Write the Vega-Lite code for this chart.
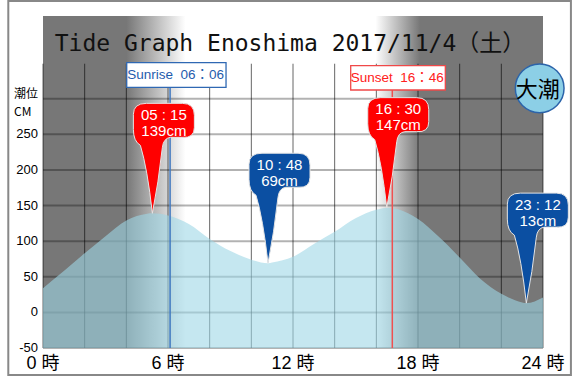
{
  "$schema": "https://vega.github.io/schema/vega-lite/v6.json",
  "width": 500,
  "height": 332,
  "autosize": {"type": "none"},
  "padding": {"left": 43, "top": 16, "right": 30, "bottom": 28},
  "background": "#ffffff",
  "config": {"view": {"stroke": null}},
  "datasets": {
    "tide": [
      {"hour": 0, "level": 34}, {"hour": 1, "level": 58}, {"hour": 2, "level": 83},
      {"hour": 3, "level": 107}, {"hour": 4, "level": 129}, {"hour": 5, "level": 138.5},
      {"hour": 5.25, "level": 139}, {"hour": 6, "level": 136}, {"hour": 7, "level": 124},
      {"hour": 8, "level": 103}, {"hour": 9, "level": 86}, {"hour": 10, "level": 74},
      {"hour": 10.8, "level": 69}, {"hour": 11, "level": 70}, {"hour": 12, "level": 78},
      {"hour": 13, "level": 96}, {"hour": 14, "level": 113}, {"hour": 15, "level": 132},
      {"hour": 16, "level": 144}, {"hour": 16.5, "level": 147}, {"hour": 17, "level": 145},
      {"hour": 18, "level": 131}, {"hour": 19, "level": 106}, {"hour": 20, "level": 77},
      {"hour": 21, "level": 47}, {"hour": 22, "level": 26}, {"hour": 23, "level": 14},
      {"hour": 23.2, "level": 13}, {"hour": 24, "level": 21}
    ],
    "extremes": [
      {"hour": 5.25, "level": 139, "time": "05 : 15", "cm": "139cm", "type": "high"},
      {"hour": 10.8, "level": 69, "time": "10 : 48", "cm": "69cm", "type": "low"},
      {"hour": 16.5, "level": 147, "time": "16 : 30", "cm": "147cm", "type": "high"},
      {"hour": 23.2, "level": 13, "time": "23 : 12", "cm": "13cm", "type": "low"}
    ],
    "sun": [
      {"event": "Sunrise", "hour": 6.1, "label": "Sunrise\u00a0\u00a006：06"},
      {"event": "Sunset", "hour": 16.767, "label": "Sunset\u00a0\u00a016：46"}
    ],
    "hgrid": [{"level": -50}, {"level": 0}, {"level": 50}, {"level": 100}, {"level": 150}, {"level": 200}, {"level": 250}, {"level": 300}],
    "vgrid": [{"hour": 0}, {"hour": 2}, {"hour": 4}, {"hour": 6}, {"hour": 8}, {"hour": 10}, {"hour": 12}, {"hour": 14}, {"hour": 16}, {"hour": 18}, {"hour": 20}, {"hour": 22}, {"hour": 24}],
    "xticks": [{"hour": 0, "label": "0 時"}, {"hour": 6, "label": "6 時"}, {"hour": 12, "label": "12 時"}, {"hour": 18, "label": "18 時"}, {"hour": 24, "label": "24 時"}],
    "yticks": [{"level": -50, "label": "-50"}, {"level": 0, "label": "0"}, {"level": 50, "label": "50"}, {"level": 100, "label": "100"}, {"level": 150, "label": "150"}, {"level": 200, "label": "200"}, {"level": 250, "label": "250"}],
    "tideName": [{"name": "大潮"}],
    "texts": [{"title": "Tide Graph Enoshima 2017/11/4（土）", "unit": "潮位\nCM"}]
  },
  "layer": [
    {
      "data": {"name": "texts"},
      "mark": {"type": "rect", "stroke": null,
        "fill": {"gradient": "linear", "x1": 0, "y1": 0, "x2": 1, "y2": 0,
          "stops": [
            {"offset": 0, "color": "#777777"},
            {"offset": 0.167, "color": "#777777"},
            {"offset": 0.285, "color": "#ffffff"},
            {"offset": 0.665, "color": "#ffffff"},
            {"offset": 0.754, "color": "#777777"},
            {"offset": 1, "color": "#777777"}
          ]}},
      "encoding": {
        "x": {"datum": 0, "type": "quantitative", "scale": {"domain": [0, 24], "nice": false, "zero": false}, "axis": null},
        "x2": {"datum": 24},
        "y": {"datum": -50, "type": "quantitative", "scale": {"domain": [-50, 416], "nice": false, "zero": false}, "axis": null},
        "y2": {"datum": 416}
      }
    },
    {
      "data": {"name": "hgrid"},
      "mark": {"type": "rule", "color": "#000000", "opacity": 0.3, "strokeWidth": 2},
      "encoding": {
        "y": {"field": "level", "type": "quantitative", "scale": {"domain": [-50, 416], "nice": false, "zero": false}, "axis": null},
        "x": {"datum": 0, "type": "quantitative", "scale": {"domain": [0, 24], "nice": false, "zero": false}, "axis": null},
        "x2": {"datum": 24}
      }
    },
    {
      "data": {"name": "vgrid"},
      "mark": {"type": "rule", "color": "#000000", "opacity": 0.6, "strokeWidth": 1},
      "encoding": {
        "x": {"field": "hour", "type": "quantitative", "scale": {"domain": [0, 24], "nice": false, "zero": false}, "axis": null},
        "y": {"datum": -50, "type": "quantitative", "scale": {"domain": [-50, 416], "nice": false, "zero": false}, "axis": null},
        "y2": {"datum": 349}
      }
    },
    {
      "data": {"name": "tide"},
      "mark": {"type": "area", "interpolate": "monotone", "color": "#9ed7e6", "opacity": 0.6},
      "encoding": {
        "x": {"field": "hour", "type": "quantitative", "scale": {"domain": [0, 24], "nice": false, "zero": false}, "axis": null},
        "y": {"field": "level", "type": "quantitative", "scale": {"domain": [-50, 416], "nice": false, "zero": false}, "axis": null},
        "y2": {"datum": -50}
      }
    },
    {
      "data": {"name": "xticks"},
      "mark": {"type": "text", "font": "Liberation Sans, Noto Sans CJK JP", "fontSize": 18, "color": "#000000", "align": "center", "baseline": "top", "yOffset": 7},
      "encoding": {
        "x": {"field": "hour", "type": "quantitative", "scale": {"domain": [0, 24], "nice": false, "zero": false}, "axis": null},
        "y": {"datum": -50, "type": "quantitative", "scale": {"domain": [-50, 416], "nice": false, "zero": false}, "axis": null},
        "text": {"field": "label"}
      }
    },
    {
      "data": {"name": "yticks"},
      "mark": {"type": "text", "font": "Liberation Sans", "fontSize": 13, "color": "#000000", "align": "right", "baseline": "middle", "xOffset": -5},
      "encoding": {
        "y": {"field": "level", "type": "quantitative", "scale": {"domain": [-50, 416], "nice": false, "zero": false}, "axis": null},
        "x": {"datum": 0, "type": "quantitative", "scale": {"domain": [0, 24], "nice": false, "zero": false}, "axis": null},
        "text": {"field": "label"}
      }
    },
    {
      "data": {"name": "sun"},
      "mark": {"type": "rule", "strokeWidth": 1.5},
      "encoding": {
        "x": {"field": "hour", "type": "quantitative", "scale": {"domain": [0, 24], "nice": false, "zero": false}, "axis": null},
        "y": {"datum": 320, "type": "quantitative", "scale": {"domain": [-50, 416], "nice": false, "zero": false}, "axis": null},
        "y2": {"datum": -50},
        "color": {"field": "event", "type": "nominal", "scale": {"domain": ["Sunrise", "Sunset", "high", "low"], "range": ["#3f78c0", "#f05050", "#ff0000", "#0b4fa2"]}, "legend": null}
      }
    },
    {
      "data": {"name": "sun"},
      "transform": [{"filter": "datum.event === 'Sunrise'"}],
      "encoding": {
        "x": {"field": "hour", "type": "quantitative", "scale": {"domain": [0, 24], "nice": false, "zero": false}, "axis": null},
        "y": {"datum": 333.2, "type": "quantitative", "scale": {"domain": [-50, 416], "nice": false, "zero": false}, "axis": null}
      },
      "layer": [
        {"mark": {"type": "point", "shape": "M-1,-0.248L1,-0.248L1,0.248L-1,0.248Z", "size": 9860, "filled": true, "fill": "#ffffff", "stroke": "#2f68b3", "strokeWidth": 1.3, "opacity": 1, "xOffset": 6.3}},
        {"mark": {"type": "text", "font": "Liberation Sans, Noto Sans CJK JP", "fontSize": 13.5, "color": "#1f5cad", "align": "center", "baseline": "middle", "xOffset": 5.5}, "encoding": {"text": {"field": "label"}}}
      ]
    },
    {
      "data": {"name": "sun"},
      "transform": [{"filter": "datum.event === 'Sunset'"}],
      "encoding": {
        "x": {"field": "hour", "type": "quantitative", "scale": {"domain": [0, 24], "nice": false, "zero": false}, "axis": null},
        "y": {"datum": 329.2, "type": "quantitative", "scale": {"domain": [-50, 416], "nice": false, "zero": false}, "axis": null}
      },
      "layer": [
        {"mark": {"type": "point", "shape": "M-1,-0.257L1,-0.257L1,0.257L-1,0.257Z", "size": 8949, "filled": true, "fill": "#ffffff", "stroke": "#f04848", "strokeWidth": 1.3, "opacity": 1, "xOffset": 5.7}},
        {"mark": {"type": "text", "font": "Liberation Sans, Noto Sans CJK JP", "fontSize": 13.5, "color": "#ff2020", "align": "center", "baseline": "middle", "xOffset": 5}, "encoding": {"text": {"field": "label"}}}
      ]
    },
    {
      "data": {"name": "extremes"},
      "encoding": {
        "x": {"field": "hour", "type": "quantitative", "scale": {"domain": [0, 24], "nice": false, "zero": false}, "axis": null},
        "y": {"field": "level", "type": "quantitative", "scale": {"domain": [-50, 416], "nice": false, "zero": false}, "axis": null}
      },
      "layer": [
        {"mark": {"type": "point", "shape": "M0,0Q-0.1,-0.9 -0.24,-1.36Q-0.38,-1.44 -0.38,-1.68L-0.38,-1.98Q-0.38,-2.2 -0.12,-2.2L0.6,-2.2Q0.84,-2.2 0.84,-1.96L0.84,-1.72Q0.84,-1.5 0.6,-1.52L0.36,-1.52Q0.22,-1.5 0.2,-1.32Q0.12,-0.6 0,0Z",
          "size": 10000, "filled": true, "opacity": 1, "stroke": "#e4e4e4", "strokeWidth": 1},
          "encoding": {"color": {"field": "type", "type": "nominal", "scale": {"domain": ["Sunrise", "Sunset", "high", "low"], "range": ["#3f78c0", "#f05050", "#ff0000", "#0b4fa2"]}, "legend": null}}},
        {"mark": {"type": "text", "font": "Liberation Sans", "fontSize": 15, "color": "#ffffff", "align": "center", "baseline": "middle", "xOffset": 11.5, "yOffset": -98.5},
          "encoding": {"text": {"field": "time"}}},
        {"mark": {"type": "text", "font": "Liberation Sans", "fontSize": 15, "color": "#ffffff", "align": "center", "baseline": "middle", "xOffset": 11.5, "yOffset": -82.5},
          "encoding": {"text": {"field": "cm"}}}
      ]
    },
    {
      "data": {"name": "tideName"},
      "encoding": {
        "x": {"datum": 23.84, "type": "quantitative", "scale": {"domain": [0, 24], "nice": false, "zero": false}, "axis": null},
        "y": {"datum": 314.5, "type": "quantitative", "scale": {"domain": [-50, 416], "nice": false, "zero": false}, "axis": null}
      },
      "layer": [
        {"mark": {"type": "point", "shape": "circle", "size": 2376, "filled": true, "fill": "#8ccfe6", "stroke": "#2c64aa", "strokeWidth": 1.5, "opacity": 1}},
        {"mark": {"type": "text", "font": "Noto Sans CJK JP", "fontSize": 22, "color": "#000000", "align": "center", "baseline": "middle", "xOffset": -2, "yOffset": 2},
          "encoding": {"text": {"field": "name"}}}
      ]
    },
    {
      "data": {"name": "texts"},
      "mark": {"type": "text", "font": "DejaVu Sans Mono, Noto Sans CJK JP", "fontSize": 23, "color": "#111111", "align": "center", "baseline": "alphabetic", "xOffset": -3},
      "encoding": {
        "x": {"datum": 12, "type": "quantitative", "scale": {"domain": [0, 24], "nice": false, "zero": false}, "axis": null},
        "y": {"datum": 366.9, "type": "quantitative", "scale": {"domain": [-50, 416], "nice": false, "zero": false}, "axis": null},
        "text": {"field": "title"}
      }
    },
    {
      "data": {"name": "texts"},
      "mark": {"type": "text", "font": "Noto Sans CJK JP", "fontSize": 12, "color": "#000000", "align": "left", "baseline": "top", "lineBreak": "\n", "lineHeight": 17.5},
      "encoding": {
        "x": {"datum": -1.39, "type": "quantitative", "scale": {"domain": [0, 24], "nice": false, "zero": false}, "axis": null},
        "y": {"datum": 313, "type": "quantitative", "scale": {"domain": [-50, 416], "nice": false, "zero": false}, "axis": null},
        "text": {"field": "unit"}
      }
    },
    {
      "data": {"name": "texts"},
      "mark": {"type": "rect", "fill": null, "stroke": "#888888", "strokeWidth": 2},
      "encoding": {
        "x": {"datum": -1.666, "type": "quantitative", "scale": {"domain": [0, 24], "nice": false, "zero": false}, "axis": null},
        "x2": {"datum": 25.34},
        "y": {"datum": -87.9, "type": "quantitative", "scale": {"domain": [-50, 416], "nice": false, "zero": false}, "axis": null},
        "y2": {"datum": 437}
      }
    }
  ]
}
